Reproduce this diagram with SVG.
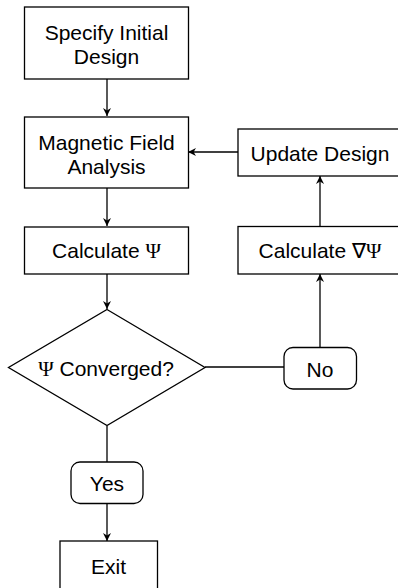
<svg xmlns="http://www.w3.org/2000/svg" width="398" height="588" viewBox="0 0 398 588">
<defs>
<style>
.box{fill:#fff;stroke:#000;stroke-width:1.3}
.t{font-family:"Liberation Sans",Arial,sans-serif;font-size:21px;fill:#000;text-anchor:middle}
.g{font-family:"Liberation Serif","Times New Roman",serif}
.c{fill:none;stroke:#000;stroke-width:1.3}
</style>
<marker id="ah" viewBox="0 0 10 10" refX="10" refY="5" markerWidth="8" markerHeight="8" markerUnits="userSpaceOnUse" orient="auto">
<path d="M0,0 L10,5 L0,10 L3,5 Z" fill="#000"/>
</marker>
</defs>
<rect width="398" height="588" fill="#fff"/>
<g id="connectors">
<line class="c" x1="107" y1="79" x2="107" y2="116" marker-end="url(#ah)"/>
<line class="c" x1="107" y1="188" x2="107" y2="226" marker-end="url(#ah)"/>
<line class="c" x1="107" y1="274" x2="107" y2="309" marker-end="url(#ah)"/>
<line class="c" x1="205" y1="367" x2="284" y2="367"/>
<line class="c" x1="320" y1="347" x2="320" y2="274" marker-end="url(#ah)"/>
<line class="c" x1="320" y1="226" x2="320" y2="176" marker-end="url(#ah)"/>
<line class="c" x1="238" y1="152" x2="188" y2="152" marker-end="url(#ah)"/>
<line class="c" x1="107" y1="426" x2="107" y2="462"/>
<line class="c" x1="107" y1="503" x2="107" y2="541" marker-end="url(#ah)"/>
</g>
<g id="specify">
<rect class="box" x="24.5" y="7" width="164" height="72"/>
<text class="t" x="106.5" y="40">Specify Initial</text>
<text class="t" x="106.5" y="64">Design</text>
</g>
<g id="magnetic">
<rect class="box" x="24.5" y="117" width="164" height="71"/>
<text class="t" x="106.5" y="150">Magnetic Field</text>
<text class="t" x="106.5" y="174">Analysis</text>
</g>
<g id="calcpsi">
<rect class="box" x="24.5" y="227" width="164" height="47"/>
<text class="t" x="106.5" y="258">Calculate <tspan class="g">Ψ</tspan></text>
</g>
<g id="update">
<rect class="box" x="238" y="129" width="164" height="47"/>
<text class="t" x="320" y="161">Update Design</text>
</g>
<g id="calcgrad">
<rect class="box" x="238" y="226.5" width="164" height="47.5"/>
<text class="t" x="320" y="258">Calculate <tspan class="g">∇Ψ</tspan></text>
</g>
<g id="converged">
<polygon class="box" points="107,309.5 205,367.5 107,425.5 8.5,367.5"/>
<text class="t" x="106" y="376"><tspan class="g">Ψ</tspan> Converged?</text>
</g>
<g id="no">
<rect class="box" x="284" y="347.5" width="72.5" height="41.5" rx="9" ry="9"/>
<text class="t" x="320" y="377">No</text>
</g>
<g id="yes">
<rect class="box" x="71" y="462" width="72" height="41.5" rx="9" ry="9"/>
<text class="t" x="107" y="491">Yes</text>
</g>
<g id="exit">
<rect class="box" x="60" y="541" width="97.5" height="60"/>
<text class="t" x="108.5" y="574">Exit</text>
</g>
</svg>
